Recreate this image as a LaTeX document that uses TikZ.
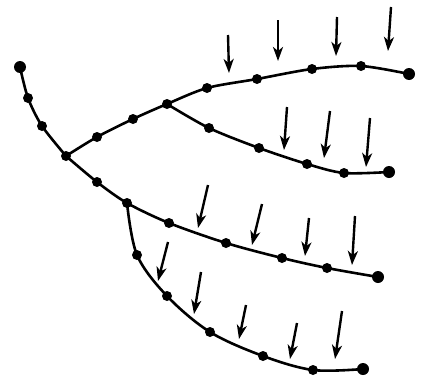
\documentclass[tikz,border=0pt]{standalone}
\usetikzlibrary{arrows.meta}
\begin{document}
\begin{tikzpicture}[x=1pt,y=-1pt,
  branch/.style={line width=2.6pt,line cap=round,line join=round},
  dot/.style={circle,fill=black,inner sep=0pt,minimum size=10pt},
  enddot/.style={circle,fill=black,inner sep=0pt,minimum size=12pt},
  force/.style={line width=2.4pt,-{Stealth[length=14pt,width=10pt,inset=4pt]}}]
\useasboundingbox (0,0) rectangle (427,380);
% main stem
\coordinate (s0) at (20,67);
\coordinate (s1) at (28,98);
\coordinate (s2) at (42,126);
\coordinate (j1) at (66,156);
\coordinate (s3) at (97,182);
\coordinate (j3) at (127,203);
\coordinate (c1) at (169,223);
\coordinate (c2) at (226,243);
\coordinate (c3) at (282,258);
\coordinate (c4) at (327,268);
\coordinate (c5) at (378,277);
% upper branch
\coordinate (u1) at (97,137);
\coordinate (u2) at (133,119);
\coordinate (j2) at (167,104);
\coordinate (a1) at (207,88);
\coordinate (a2) at (257,79);
\coordinate (a3) at (312,69);
\coordinate (a4) at (361,66);
\coordinate (a5) at (409,74);
% second branch
\coordinate (b1) at (209,128);
\coordinate (b2) at (259,148);
\coordinate (b3) at (307,164);
\coordinate (b4) at (344,173);
\coordinate (b5) at (389,172);
% bottom branch
\coordinate (d1) at (137,255);
\coordinate (d2) at (167,296);
\coordinate (d3) at (210,332);
\coordinate (d4) at (263,356);
\coordinate (d5) at (313,370);
\coordinate (d6) at (363,369);

\draw[branch] plot[smooth,tension=0.5] coordinates {(s0) (s1) (s2) (j1)};
\draw[branch] plot[smooth,tension=0.5] coordinates {(j1) (s3) (j3) (c1) (c2) (c3) (c4) (c5)};
\draw[branch] plot[smooth,tension=0.5] coordinates {(j1) (u1) (u2) (j2) (a1) (a2) (a3) (a4) (a5)};
\draw[branch] plot[smooth,tension=0.5] coordinates {(j2) (b1) (b2) (b3) (b4) (b5)};
\draw[branch] plot[smooth,tension=0.55] coordinates {(j3) (d1) (d2) (d3) (d4) (d5) (d6)};

\foreach \p in {s1,s2,j1,s3,j3,c1,c2,c3,c4,u1,u2,j2,a1,a2,a3,a4,b1,b2,b3,b4,d1,d2,d3,d4,d5}
  \node[dot] (n\p) at (\p) {};
\foreach \p in {s0,c5,a5,b5,d6}
  \node[enddot] (n\p) at (\p) {};

% force arrows
\foreach \i/\tx/\ty/\hx/\hy in {
  1/228/35/229/73, 2/278/20/278/61, 3/337/17/336/56, 4/391/7/388/51,
  5/287/107/284/150, 6/330/111/324/158, 7/370/118/366/167,
  8/208/185/198/228, 9/262/204/252/245, 10/309/218/305/256, 11/355/216/352/265,
  12/168/242/158/281, 13/201/272/194/314, 14/246/305/239/339, 15/297/323/290/359, 16/342/311/335/359}
{
  \coordinate (t\i) at (\tx,\ty);
  \coordinate (h\i) at (\hx,\hy);
  \draw[force] (t\i) -- (h\i);
}
\end{tikzpicture}
\end{document}
